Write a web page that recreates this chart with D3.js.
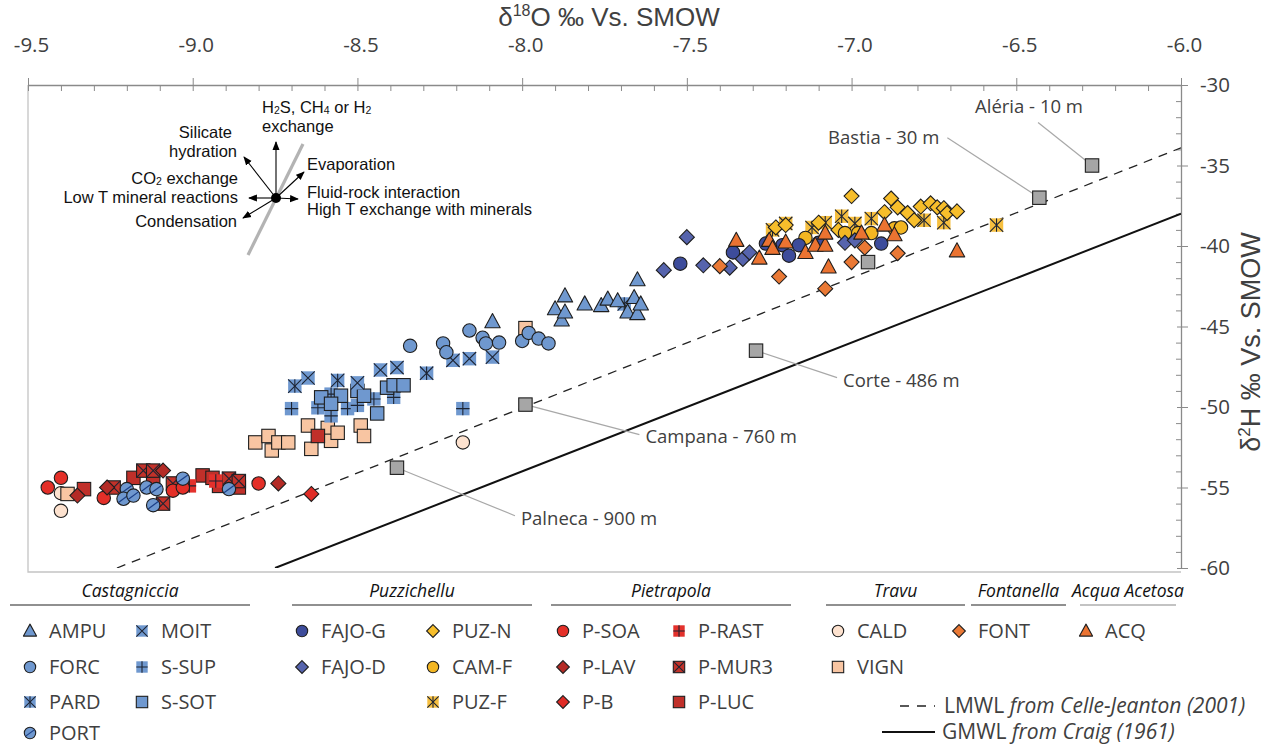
<!DOCTYPE html>
<html><head><meta charset="utf-8">
<script src="https://cdn.jsdelivr.net/npm/d3@7"></script>
<style>body{margin:0;background:#fff}svg{display:block}</style>
</head><body>
<svg id="c" width="1272" height="747"></svg>
<script>
// ---------------- DATA (δ18O, δ2H) ----------------
const AMPU = [[-8.09,-44.7],[-7.90,-43.9],[-7.88,-44.6],[-7.87,-43.1],[-7.87,-44.1],[-7.81,-43.6],[-7.76,-43.7],[-7.74,-43.3],[-7.71,-43.4],[-7.68,-44.1],[-7.66,-43.2],[-7.65,-44.2],[-7.64,-43.6],[-7.65,-42.1]];
const FORC = [[-8.34,-46.2],[-8.24,-46.05],[-8.23,-46.6],[-8.16,-45.25],[-8.12,-45.7],[-8.11,-46.05],[-8.07,-46.0],[-8.00,-45.9],[-7.98,-45.4],[-7.95,-45.75],[-7.92,-46.05]];
const PARD = [[-8.69,-48.7],[-8.56,-48.35],[-8.29,-47.9],[-7.69,-43.6]];
const PORT = [[-9.20,-55.1],[-9.21,-55.7],[-9.18,-55.5],[-9.14,-55.0],[-9.11,-55.1],[-9.12,-56.1],[-9.03,-54.45],[-8.89,-55.1]];
const MOIT = [[-8.65,-48.2],[-8.50,-48.5],[-8.43,-47.7],[-8.38,-47.55],[-8.21,-47.1],[-8.16,-47.0],[-8.09,-46.9]];
const S_SUP = [[-8.70,-50.1],[-8.62,-50.05],[-8.58,-49.2],[-8.58,-50.55],[-8.53,-50.1],[-8.50,-49.9],[-8.45,-49.5],[-8.39,-49.4],[-8.18,-50.1]];
const S_SOT = [[-8.61,-49.4],[-8.55,-49.3],[-8.50,-49.0],[-8.44,-50.4],[-8.41,-48.8],[-8.39,-48.65],[-8.36,-48.65],[-8.58,-49.8],[-8.48,-49.3]];
const FAJO_G = [[-7.52,-41.1],[-7.36,-40.4],[-7.26,-39.85],[-7.21,-39.95],[-7.19,-40.6],[-7.16,-39.95],[-7.10,-39.8],[-6.91,-39.85]];
const FAJO_D = [[-7.50,-39.45],[-7.57,-41.5],[-7.45,-41.2],[-7.37,-41.35],[-7.33,-40.8],[-7.31,-40.4],[-7.02,-39.8],[-6.99,-39.65]];
const PUZ_N = [[-7.00,-36.9],[-7.23,-38.85],[-7.20,-38.7],[-7.10,-38.55],[-7.04,-39.0],[-6.90,-37.9],[-6.88,-37.05],[-6.86,-37.6],[-6.83,-37.95],[-6.79,-37.55],[-6.76,-37.35],[-6.74,-37.6],[-6.72,-37.65],[-6.71,-37.95],[-6.68,-37.85],[-6.81,-38.4]];
const CAM_F = [[-7.14,-39.5],[-7.02,-39.2],[-6.98,-39.2],[-6.94,-39.2],[-6.87,-38.9],[-6.85,-38.85]];
const PUZ_F = [[-7.24,-39.0],[-7.20,-38.6],[-7.12,-38.85],[-7.08,-38.55],[-7.03,-38.15],[-6.99,-38.6],[-6.94,-38.3],[-6.78,-38.4],[-6.72,-38.55],[-6.56,-38.7]];
const P_SOA = [[-9.44,-55.0],[-9.40,-54.4],[-9.27,-55.65],[-9.06,-55.2],[-9.03,-55.0],[-8.80,-54.75]];
const P_LAV = [[-9.35,-55.5],[-9.09,-53.95],[-9.26,-55.0],[-8.74,-54.75]];
const P_B = [[-8.64,-55.4]];
const P_RAST = [[-9.01,-54.9],[-8.93,-54.6]];
const P_MUR3 = [[-9.24,-55.0],[-9.15,-53.95],[-9.12,-53.95],[-9.09,-56.0],[-9.06,-54.75],[-8.89,-54.45],[-8.86,-54.6]];
const P_LUC = [[-9.33,-55.1],[-9.18,-54.4],[-9.12,-54.4],[-8.97,-54.25],[-8.94,-54.4],[-8.92,-54.9],[-8.86,-55.0],[-8.62,-51.8]];
const CALD = [[-9.40,-56.45],[-9.40,-55.35],[-8.18,-52.2]];
const VIGN = [[-9.38,-55.4],[-8.81,-52.2],[-8.77,-51.8],[-8.76,-52.7],[-8.74,-52.2],[-8.71,-52.2],[-8.65,-51.15],[-8.64,-52.6],[-8.59,-51.3],[-8.58,-52.1],[-8.56,-51.6],[-8.49,-51.15],[-8.48,-51.8],[-7.99,-45.1]];
const FONT = [[-7.40,-41.25],[-7.22,-41.9],[-7.08,-42.65],[-7.00,-41.0],[-6.96,-40.1],[-6.86,-40.45]];
const ACQ = [[-7.35,-39.65],[-7.28,-40.75],[-7.25,-39.65],[-7.24,-40.15],[-7.20,-39.75],[-7.14,-40.4],[-7.11,-39.95],[-7.08,-39.95],[-7.07,-41.3],[-7.08,-39.2],[-6.97,-39.2],[-6.90,-38.7],[-6.87,-39.3],[-6.68,-40.3]];
const REF = [[-6.27,-35.0],[-6.43,-37.0],[-6.95,-41.0],[-7.29,-46.5],[-7.99,-49.85],[-8.38,-53.77]];
const REF_LABELS = ["Aléria - 10 m","Bastia - 30 m","","Corte - 486 m","Campana - 760 m","Palneca - 900 m"];
const LMWL = [[-9.23,-60],[-6.0,-33.9]];
const GMWL = [[-8.75,-60],[-6.0,-38]];
const X_TICKS = [-9.5,-9.0,-8.5,-8.0,-7.5,-7.0,-6.5,-6.0];
const Y_TICKS = [-30,-35,-40,-45,-50,-55,-60];

// ---------------- STYLES ----------------
const LB = "#6f98cf";
const S = {
  AMPU:{shape:"tri",fill:LB}, FORC:{shape:"circ",fill:LB}, PARD:{shape:"sq",fill:LB,noStroke:true,glyph:"ast"},
  PORT:{shape:"circ",fill:LB,glyph:"slash"}, MOIT:{shape:"sq",fill:LB,noStroke:true,glyph:"x"},
  S_SUP:{shape:"sq",fill:LB,noStroke:true,glyph:"plus"}, S_SOT:{shape:"sq",fill:LB},
  FAJO_G:{shape:"circ",fill:"#3d4c9b"}, FAJO_D:{shape:"dia",fill:"#5664ad"},
  PUZ_N:{shape:"dia",fill:"#f7be2b"}, CAM_F:{shape:"circ",fill:"#f3b622"}, PUZ_F:{shape:"sq",fill:"#f6bf3f",noStroke:true,glyph:"ast"},
  P_SOA:{shape:"circ",fill:"#e42f28"}, P_LAV:{shape:"dia",fill:"#b42b26"}, P_B:{shape:"dia",fill:"#e02c26"},
  P_RAST:{shape:"sq",fill:"#e3312c",noStroke:true,glyph:"plus"}, P_MUR3:{shape:"sq",fill:"#c2322a",glyph:"x"}, P_LUC:{shape:"sq",fill:"#c0302a"},
  CALD:{shape:"circ",fill:"#fde2cf"}, VIGN:{shape:"sq",fill:"#f8c5a2"},
  FONT:{shape:"dia",fill:"#ea7935"}, ACQ:{shape:"tri",fill:"#eb7331"},
  REF:{shape:"sq",fill:"#a6a6a6"}
};
const DATA = {AMPU,FORC,PARD,PORT,MOIT,S_SUP,S_SOT,FAJO_G,FAJO_D,PUZ_N,CAM_F,PUZ_F,P_SOA,P_LAV,P_B,P_RAST,P_MUR3,P_LUC,CALD,VIGN,FONT,ACQ};
const ORDER = ["CALD","VIGN","P_LUC","P_MUR3","P_RAST","P_SOA","P_LAV","P_B","S_SUP","S_SOT","MOIT","PARD","FORC","AMPU","PORT","PUZ_F","PUZ_N","CAM_F","FAJO_G","FAJO_D","FONT","ACQ"];

const svg = d3.select("#c");
const X = d3.scaleLinear().domain([-9.5,-6]).range([28,1181]);
const Y = d3.scaleLinear().domain([-30,-60]).range([85,568]);

function marker(g, st, cx, cy, k=1){
  const o = g.append("g").attr("transform",`translate(${cx},${cy})`);
  const stroke = st.noStroke ? "none" : "#1e1e1e";
  const h = 6.7*k;
  if (st.shape==="circ") o.append("circle").attr("r",h).attr("fill",st.fill).attr("stroke",stroke).attr("stroke-width",1.1);
  else if (st.shape==="sq") o.append("rect").attr("x",-h).attr("y",-h).attr("width",2*h).attr("height",2*h).attr("fill",st.fill).attr("stroke",stroke).attr("stroke-width",1.1);
  else if (st.shape==="dia") { const d=7.5*k; o.append("path").attr("d",`M0,${-d}L${d},0L0,${d}L${-d},0Z`).attr("fill",st.fill).attr("stroke",stroke).attr("stroke-width",1.1); }
  else if (st.shape==="tri") { const a=7.7*k; o.append("path").attr("d",`M0,${-a*1.05}L${a},${a*0.78}L${-a},${a*0.78}Z`).attr("fill",st.fill).attr("stroke",stroke).attr("stroke-width",1.1).attr("stroke-linejoin","round"); }
  const gc = "#1d2433";
  if (st.glyph==="x"||st.glyph==="ast"){
    o.append("path").attr("d",`M${-h},${-h}L${h},${h}M${h},${-h}L${-h},${h}`).attr("stroke",gc).attr("stroke-width",1.1);
  }
  if (st.glyph==="ast") o.append("path").attr("d",`M0,${-h}L0,${h}`).attr("stroke",gc).attr("stroke-width",1.1);
  if (st.glyph==="plus") o.append("path").attr("d",`M0,${-h}L0,${h}M${-h},0L${h},0`).attr("stroke",gc).attr("stroke-width",1.1);
  if (st.glyph==="slash") o.append("path").attr("d",`M${-h*0.75},${h*0.55}L${h*0.75},${-h*0.55}`).attr("stroke","#1b3f86").attr("stroke-width",1.2);
}

// frame
const FR = {l:X(-9.5), r:X(-6), t:Y(-30), b:Y(-60)};
svg.append("path").attr("d",`M${FR.l},${FR.t}V${FR.b+4}H${FR.r}`).attr("fill","none").attr("stroke","#c4c4c4").attr("stroke-width",1.3);

// top axis
const fmt = d => (d<0?"-":"")+Math.abs(d).toFixed(1);
const minorX = d3.range(0,36).map(i=>+(-9.5+i*0.1).toFixed(1)).filter(v=>!X_TICKS.some(t=>Math.abs(t-v)<1e-6));
const gTop = svg.append("g").attr("transform",`translate(0,${FR.t})`)
  .call(d3.axisTop(X).tickValues(X_TICKS).tickSizeInner(7).tickSizeOuter(0).tickPadding(26).tickFormat(fmt));
gTop.select(".domain").attr("stroke","#8a8a8a").attr("stroke-width",1.3);
gTop.selectAll(".tick line").attr("stroke","#8a8a8a").attr("y1",6);
gTop.selectAll(".tick text").attr("font-family","'Open Sans',sans-serif").attr("font-size",20.5).attr("fill","#404040").attr("dx",3);
const gTopM = svg.append("g").attr("transform",`translate(0,${FR.t})`)
  .call(d3.axisTop(X).tickValues(minorX).tickSizeInner(-6).tickSizeOuter(0).tickFormat(""));
gTopM.select(".domain").remove();
gTopM.selectAll(".tick line").attr("stroke","#8a8a8a");

// right axis
const minorY = d3.range(-30,-61,-1).filter(v=>v%5!==0);
const gR = svg.append("g").attr("transform",`translate(${FR.r},0)`)
  .call(d3.axisRight(Y).tickValues(Y_TICKS).tickSizeInner(7).tickSizeOuter(0).tickPadding(12).tickFormat(d=>String(d)));
gR.select(".domain").attr("stroke","#8a8a8a").attr("stroke-width",1.3);
gR.selectAll(".tick line").attr("stroke","#8a8a8a").attr("x1",-4);
gR.selectAll(".tick text").attr("font-family","'Open Sans',sans-serif").attr("font-size",20.5).attr("fill","#404040");
const gRM = svg.append("g").attr("transform",`translate(${FR.r},0)`)
  .call(d3.axisRight(Y).tickValues(minorY).tickSizeInner(-5).tickSizeOuter(0).tickFormat(""));
gRM.select(".domain").remove();
gRM.selectAll(".tick line").attr("stroke","#8a8a8a");

// titles
const TF = "'Liberation Sans',Arial,sans-serif";
const tt = svg.append("text").attr("x",609).attr("y",26).attr("text-anchor","middle")
  .attr("font-family",TF).attr("font-size",26).attr("fill","#404040");
tt.append("tspan").text("δ");
tt.append("tspan").text("18").attr("font-size",16).attr("dy",-10);
tt.append("tspan").text("O ‰ Vs. SMOW").attr("dy",10);
const rt = svg.append("text").attr("transform","translate(1260,342) rotate(-90)").attr("text-anchor","middle")
  .attr("font-family",TF).attr("font-size",27).attr("fill","#404040");
rt.append("tspan").text("δ");
rt.append("tspan").text("2").attr("font-size",17).attr("dy",-10);
rt.append("tspan").text("H ‰ Vs. SMOW").attr("dy",10);

// clip for lines
svg.append("defs").append("clipPath").attr("id","pc").append("rect").attr("x",FR.l).attr("y",FR.t).attr("width",FR.r-FR.l).attr("height",FR.b-FR.t);
const line = d3.line().x(d=>X(d[0])).y(d=>Y(d[1]));
svg.append("path").datum(LMWL).attr("d",line).attr("fill","none").attr("stroke","#222").attr("stroke-width",1.3).attr("stroke-dasharray","9,7").attr("clip-path","url(#pc)");
svg.append("path").datum(GMWL).attr("d",line).attr("fill","none").attr("stroke","#111").attr("stroke-width",2).attr("clip-path","url(#pc)");

// reference station leader lines & labels
const LBL = [
  {tx:-117,ty:-53,anchor:"start",lx:-54,ly:-43},
  {tx:-100,ty:-54,anchor:"end",lx:-92,ly:-60},
  null,
  {tx:87,ty:36,anchor:"start",lx:81,ly:27},
  {tx:120,ty:38,anchor:"start",lx:114,ly:30},
  {tx:124,ty:57,anchor:"start",lx:118,ly:48}
];
REF.forEach((p,i)=>{
  const L = LBL[i]; if(!L) return;
  const cx=X(p[0]), cy=Y(p[1]);
  svg.append("line").attr("x1",cx).attr("y1",cy).attr("x2",cx+L.lx).attr("y2",cy+L.ly).attr("stroke","#a8a8a8").attr("stroke-width",1.2);
  svg.append("text").attr("x",cx+L.tx).attr("y",cy+L.ty).attr("text-anchor",L.anchor)
    .attr("font-family","'Open Sans',sans-serif").attr("font-size",18.5).attr("fill","#404040").text(REF_LABELS[i]);
});

// points
const gp = svg.append("g");
ORDER.forEach(k=>DATA[k].forEach(p=>marker(gp,S[k],X(p[0]),Y(p[1]))));
REF.forEach(p=>marker(gp,S.REF,X(p[0]),Y(p[1])));

// process diagram
const defs = svg.select("defs");
defs.append("marker").attr("id","ah").attr("viewBox","0 0 10 10").attr("refX",9).attr("refY",5)
  .attr("markerWidth",8).attr("markerHeight",8).attr("orient","auto-start-reverse")
  .append("path").attr("d","M0,1L10,5L0,9Z").attr("fill","#000");
const C=[276,198];
const gd = svg.append("g");
gd.append("line").attr("x1",248).attr("y1",255).attr("x2",303).attr("y2",144).attr("stroke","#b3b3b3").attr("stroke-width",3.2);
[[276,142],[244,157],[304,172],[249,198],[298,199],[243,218]].forEach(e=>{
  gd.append("line").attr("x1",C[0]).attr("y1",C[1]).attr("x2",e[0]).attr("y2",e[1]).attr("stroke","#000").attr("stroke-width",1.1).attr("marker-end","url(#ah)");
});
gd.append("circle").attr("cx",C[0]).attr("cy",C[1]).attr("r",5).attr("fill","#000");
function ptxt(x,y,anchor,parts){
  const t = gd.append("text").attr("x",x).attr("y",y).attr("text-anchor",anchor)
    .attr("font-family","'Liberation Sans',Arial,sans-serif").attr("font-size",16.5).attr("fill","#111");
  let lowered = false;
  parts.forEach(pp=>{
    if(typeof pp==="string"){ const s=t.append("tspan").text(pp); if(lowered){s.attr("dy",-1);lowered=false;} }
    else { t.append("tspan").text(pp.sub).attr("font-size",10.5).attr("dy",1); lowered=true; }
  });
}
ptxt(262,113,"start",["H",{sub:"2"},"S, CH",{sub:"4"}," or H",{sub:"2"}]);
ptxt(262,132,"start",["exchange"]);
ptxt(232,138,"end",["Silicate"]);
ptxt(237,157,"end",["hydration"]);
ptxt(238,184,"end",["CO",{sub:"2"}," exchange"]);
ptxt(238,203,"end",["Low T mineral reactions"]);
ptxt(237,227,"end",["Condensation"]);
ptxt(307,170,"start",["Evaporation"]);
ptxt(307,198,"start",["Fluid-rock interaction"]);
ptxt(307,215,"start",["High T exchange with minerals"]);

// legend
const LF = "'Open Sans',sans-serif";
const groups = [
  {name:"Castagniccia",x1:10,x2:250},
  {name:"Puzzichellu",x1:292,x2:532},
  {name:"Pietrapola",x1:551,x2:791},
  {name:"Travu",x1:826,x2:965},
  {name:"Fontanella",x1:971,x2:1066},
  {name:"Acqua Acetosa",x1:1080,x2:1176}
];
groups.forEach(g=>{
  svg.append("text").attr("x",(g.x1+g.x2)/2).attr("y",597).attr("text-anchor","middle").attr("font-family",LF)
    .attr("font-style","italic").attr("font-size",17.5).attr("fill","#111").text(g.name);
  svg.append("line").attr("x1",g.x1).attr("x2",g.x2).attr("y1",605).attr("y2",605).attr("stroke",g.name==="Acqua Acetosa"?"#888":"#222").attr("stroke-width",1.2);
});
const ROWS=[631,667,702,733];
const legendItems = [
  ["AMPU","AMPU",30,0],["FORC","FORC",30,1],["PARD","PARD",30,2],["PORT","PORT",30,3],
  ["MOIT","MOIT",142,0],["S_SUP","S-SUP",142,1],["S_SOT","S-SOT",142,2],
  ["FAJO_G","FAJO-G",302,0],["FAJO_D","FAJO-D",302,1],
  ["PUZ_N","PUZ-N",433,0],["CAM_F","CAM-F",433,1],["PUZ_F","PUZ-F",433,2],
  ["P_SOA","P-SOA",563,0],["P_LAV","P-LAV",563,1],["P_B","P-B",563,2],
  ["P_RAST","P-RAST",679,0],["P_MUR3","P-MUR3",679,1],["P_LUC","P-LUC",679,2],
  ["CALD","CALD",838,0],["VIGN","VIGN",838,1],
  ["FONT","FONT",959,0],["ACQ","ACQ",1086,0]
];
legendItems.forEach(([k,lab,x,r])=>{
  marker(svg,S[k],x,ROWS[r],0.85);
  svg.append("text").attr("x",x+19).attr("y",ROWS[r]+7).attr("font-family",LF).attr("font-size",20).attr("fill","#404040").text(lab);
});
svg.append("line").attr("x1",900).attr("x2",935).attr("y1",706).attr("y2",706).attr("stroke","#222").attr("stroke-width",1.3).attr("stroke-dasharray","9,8");
svg.append("line").attr("x1",882).attr("x2",935).attr("y1",732).attr("y2",732).attr("stroke","#111").attr("stroke-width",2);
const l1 = svg.append("text").attr("x",944).attr("y",713).attr("font-family",LF).attr("font-size",21).attr("fill","#404040");
l1.append("tspan").text("LMWL ");
l1.append("tspan").attr("font-style","italic").text("from Celle-Jeanton (2001)");
const l2 = svg.append("text").attr("x",942).attr("y",739).attr("font-family",LF).attr("font-size",21).attr("fill","#404040");
l2.append("tspan").text("GMWL ");
l2.append("tspan").attr("font-style","italic").text("from Craig (1961)");
</script>
</body></html>
